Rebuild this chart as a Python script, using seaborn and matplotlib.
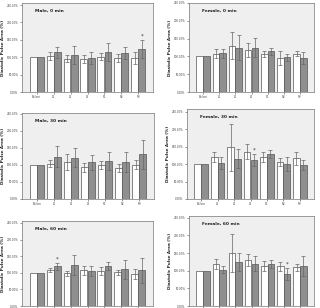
import numpy as np
import pandas as pd
import seaborn as sns
import matplotlib
matplotlib.use("Agg")
import matplotlib.pyplot as plt
from matplotlib.ticker import FuncFormatter

categories = ["Before", "L1", "L2", "L3", "R1", "R2", "R3"]
titles = ["Male, 0 min", "Female, 0 min", "Male, 30 min",
          "Female, 30 min", "Male, 60 min", "Female, 60 min"]

# white bars (first group) per panel
white_mean = [
    [100, 104, 96, 94, 102, 97, 97],
    [100, 107.5, 130, 117.5, 106, 96, 108],
    [100, 103, 109, 93, 100, 91, 100],
    [100, 120, 148.5, 136, 120, 107, 117],
    [100, 108, 98, 107, 106, 101, 97],
    [100, 119, 150, 130.5, 113, 112, 109.5],
]
white_err = [
    [0, 11, 9, 11, 9, 12, 17],
    [0, 12, 38, 20, 9, 19, 8],
    [0, 10, 24, 13, 12, 12, 13],
    [0, 15, 67, 21, 14, 11, 19],
    [0, 7, 8, 13, 12, 8, 15],
    [0, 14, 53, 18, 15, 14, 10],
]
# grey bars (second group) per panel
grey_mean = [
    [100, 114, 107, 97, 115, 113, 124],
    [100, 109, 124, 124, 114, 98, 96],
    [100, 124.5, 120.5, 107, 111, 109, 131],
    [100, 104, 115, 112, 128.5, 100, 98],
    [100, 119, 124, 105, 121, 111, 107],
    [100, 103, 125, 120, 118, 91, 114],
]
grey_err = [
    [0, 15, 26, 17, 25, 17, 27],
    [0, 13, 35, 27, 10, 10, 16],
    [0, 32, 28, 21, 27, 30, 43],
    [0, 17, 27, 17, 12, 19, 15],
    [0, 12, 30, 14, 13, 29, 39],
    [0, 10, 26, 22, 11, 17, 29],
]
# significance marks: (panel, category index, text) on the grey bar
stars = [(0, 6, "*"), (3, 3, "*"), (4, 1, "*"), (5, 5, "*")]

# panel boxes in pixels: x0, x1, ytop, ybottom, ymax
boxes = [
    (22, 153, 3, 92, 256),
    (189, 314, 3, 92, 222),
    (22, 154, 113, 199, 252),
    (187, 314, 109, 199, 258),
    (22, 153, 221, 306, 256),
    (189, 314, 216, 306, 255),
]

sns.set_style("white")
plt.rcParams["font.family"] = ["DejaVu Sans"]
W, H = 320, 308
fig = plt.figure(figsize=(W / 100, H / 100), dpi=100)
fig.patch.set_facecolor("white")

edge = "#555555"
for i, (x0, x1, yt, yb, ymax) in enumerate(boxes):
    ax = fig.add_axes([x0 / W, 1 - yb / H, (x1 - x0) / W, (yb - yt) / H])
    df = pd.DataFrame({
        "cat": categories * 2,
        "grp": ["a"] * 7 + ["b"] * 7,
        "val": white_mean[i] + grey_mean[i],
    })
    sns.barplot(data=df, x="cat", y="val", hue="grp", order=categories,
                palette=["white", "#8f8f8f"], errorbar=None, legend=False,
                width=0.84, gap=0.03, edgecolor=edge, linewidth=0.5, ax=ax)
    bars = list(ax.containers)
    errs = [white_err[i], grey_err[i]]
    means = [white_mean[i], grey_mean[i]]
    for k, cont in enumerate(bars):
        xs = [p.get_x() + p.get_width() / 2 for p in cont.patches]
        for j in range(1, 7):
            ax.errorbar(xs[j], means[k][j], yerr=errs[k][j], fmt="none",
                        ecolor="#666666", elinewidth=0.5, capsize=1.4,
                        capthick=0.5)
    for (p, c, t) in stars:
        if p == i:
            bar = bars[1].patches[c]
            ax.text(bar.get_x() + bar.get_width() / 2,
                    grey_mean[i][c] + grey_err[i][c] + 3, t,
                    ha="center", va="bottom", fontsize=4, color="#333333")
    ax.set_facecolor("#efefef")
    ax.set_ylim(0, ymax)
    ax.set_xlim(-0.87, 6.87)
    ax.set_yticks([0, 50, 100, 150, 200, 250])
    ax.yaxis.set_major_formatter(FuncFormatter(lambda v, pos: f"{v:.2f}%"))
    ax.tick_params(axis="both", labelsize=2.0, length=1.5, width=0.4,
                   pad=1, colors="#444444", left=True, bottom=True)
    if i >= 4:
        ax.tick_params(axis="x", labelbottom=False)
    ax.set_xlabel("")
    ax.set_ylabel("Diastolic Pulse Area (%)", fontsize=3.0,
                  fontweight="bold", labelpad=1.5, color="#222222")
    for s in ax.spines.values():
        s.set_color("#777777")
        s.set_linewidth(0.5)
    ax.text(0.1, 0.93, titles[i], transform=ax.transAxes, fontsize=3.2,
            fontweight="bold", va="top", ha="left", color="#222222")

fig.savefig("out.png", dpi=100)
